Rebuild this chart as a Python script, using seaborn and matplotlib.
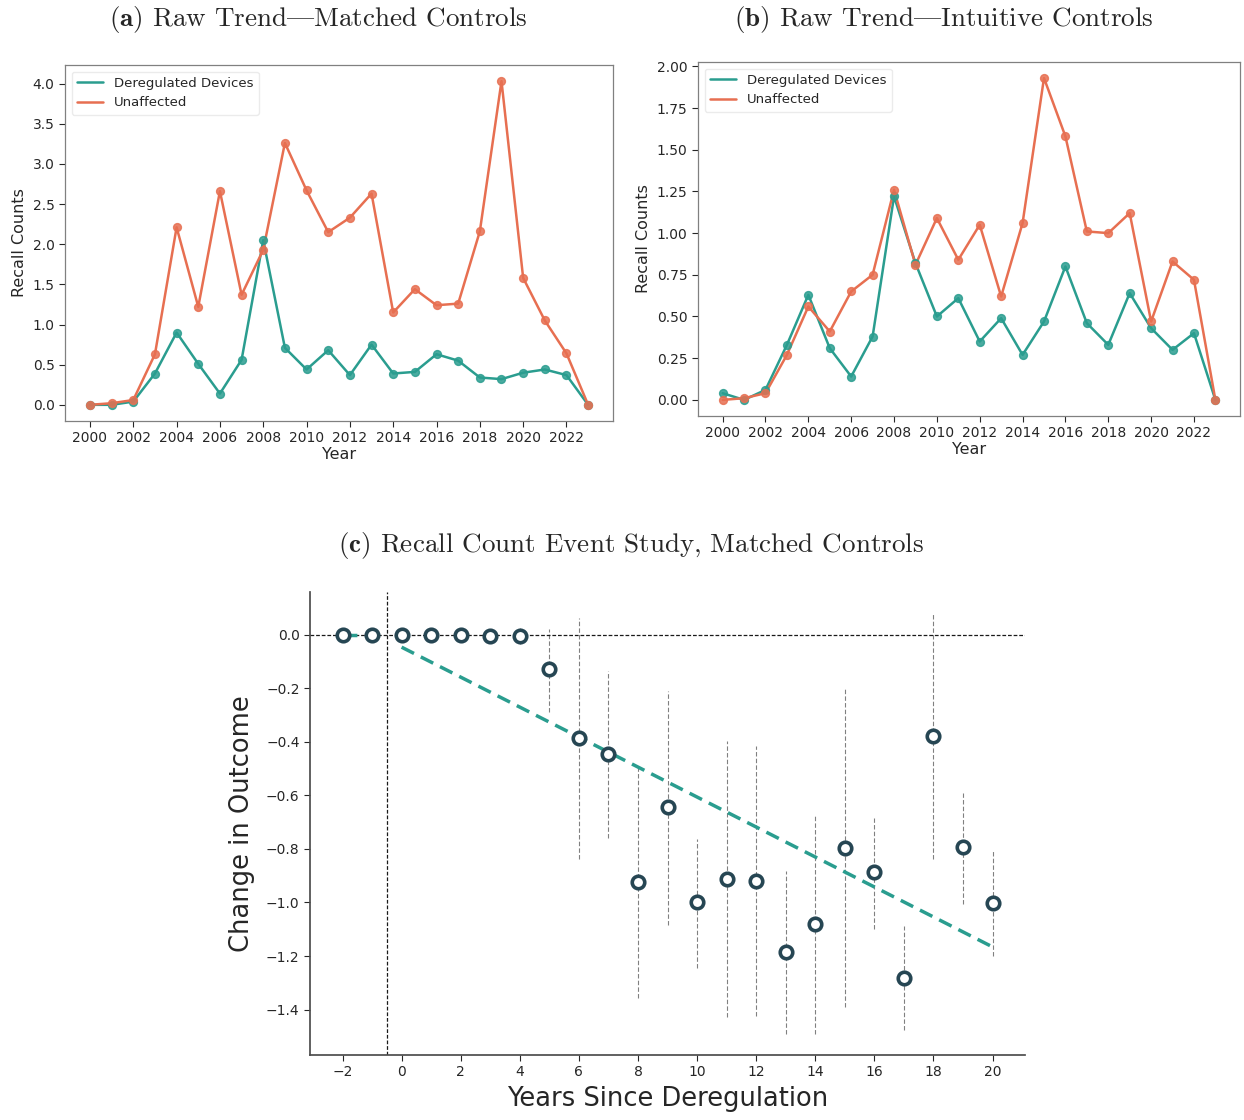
import numpy as np
import pandas as pd
import matplotlib
matplotlib.use("Agg")
import matplotlib.pyplot as plt
import seaborn as sns

# DATA

years = list(range(2000, 2024))

# panel (a) - matched controls
a_dereg = [0.0, 0.0, 0.04, 0.39, 0.90, 0.51, 0.14, 0.56, 2.05, 0.71, 0.44, 0.68,
           0.37, 0.75, 0.39, 0.41, 0.63, 0.55, 0.34, 0.32, 0.40, 0.44, 0.37, 0.0]
a_unaff = [0.0, 0.02, 0.06, 0.63, 2.21, 1.22, 2.66, 1.37, 1.93, 3.26, 2.67, 2.15,
           2.33, 2.63, 1.15, 1.44, 1.24, 1.26, 2.16, 4.03, 1.58, 1.05, 0.64, 0.0]

# panel (b) - intuitive controls
b_dereg = [0.04, 0.0, 0.06, 0.33, 0.63, 0.31, 0.14, 0.38, 1.22, 0.82, 0.50, 0.61,
           0.35, 0.49, 0.27, 0.47, 0.80, 0.46, 0.33, 0.64, 0.43, 0.30, 0.40, 0.0]
b_unaff = [0.0, 0.01, 0.04, 0.27, 0.56, 0.41, 0.65, 0.75, 1.26, 0.81, 1.09, 0.84,
           1.05, 0.62, 1.06, 1.93, 1.58, 1.01, 1.00, 1.12, 0.47, 0.83, 0.72, 0.0]

# panel (c) - event study
rel_years = list(range(-2, 21))
coef = [0.0, 0.0, 0.0, 0.0, 0.0, -0.003, -0.003, -0.127, -0.384, -0.445, -0.924, -0.644,
        -0.998, -0.911, -0.918, -1.186, -1.082, -0.796, -0.887, -1.282, -0.378, -0.794, -1.002]
ci_low = [0.0, 0.0, 0.0, 0.0, 0.0, -0.01, -0.033, -0.288, -0.837, -0.760, -1.357, -1.083,
          -1.243, -1.426, -1.423, -1.493, -1.493, -1.390, -1.098, -1.476, -0.837, -1.005, -1.200]
ci_high = [0.0, 0.0, 0.0, 0.0, 0.0, 0.004, 0.026, 0.023, 0.064, -0.135, -0.499, -0.210,
           -0.761, -0.398, -0.416, -0.884, -0.676, -0.203, -0.683, -1.089, 0.080, -0.590, -0.808]
pre_years = [-2, -1]
post_years = list(range(0, 21))
fit_intercept = -0.046
fit_slope = -0.056

TEAL = "#2a9d8f"
ORANGE = "#e76f51"
DARK = "#264653"

sns.set_theme(style="ticks")
plt.rcParams["font.family"] = ["DejaVu Sans"]
plt.rcParams["mathtext.fontset"] = "cm"

fig = plt.figure(figsize=(12.44, 11.2), dpi=100)

# cmr10 keeps the TeX layout: "|" is the em dash glyph there
title_font = dict(family=["cmr10", "DejaVu Serif"], size=19.5)


def trend_panel(ax, dereg, unaff):
    df = pd.DataFrame({"Year": years * 2,
                       "value": dereg + unaff,
                       "group": ["Deregulated Devices"] * len(years) + ["Unaffected"] * len(years)})
    sns.lineplot(data=df, x="Year", y="value", hue="group",
                 palette=[TEAL, ORANGE], linewidth=1.8, ax=ax)
    ax.scatter(years, dereg, color=TEAL, s=32, alpha=0.85, zorder=3, edgecolor=TEAL, linewidth=1)
    ax.scatter(years, unaff, color=ORANGE, s=32, alpha=0.85, zorder=3, edgecolor=ORANGE, linewidth=1)
    ax.set_xticks(range(2000, 2023, 2))
    ax.tick_params(labelsize=10, colors="0.15", length=4, width=0.8)
    ax.set_xlabel("Year", fontsize=11.5, labelpad=1)
    ax.set_ylabel("Recall Counts", fontsize=11.5)
    for s in ax.spines.values():
        s.set_visible(True)
        s.set_color("0.5")
        s.set_linewidth(0.9)
    leg = ax.legend(loc="upper left", fontsize=9.5, title=None, frameon=True)
    leg.get_frame().set_edgecolor("0.9")


# PANEL A
ax_a = fig.add_axes([0.0523, 0.6241, 0.4405, 0.3179])
trend_panel(ax_a, a_dereg, a_unaff)
fig.text(0.256, 0.983, r"$\mathbf{(a)}$ Raw Trend|Matched Controls", ha="center", va="center",
         fontdict=title_font)

# PANEL B
ax_b = fig.add_axes([0.5611, 0.6286, 0.4357, 0.3161])
trend_panel(ax_b, b_dereg, b_unaff)
ax_b.yaxis.set_major_formatter(matplotlib.ticker.FormatStrFormatter("%.2f"))
fig.text(0.759, 0.983, r"$\mathbf{(b)}$ Raw Trend|Intuitive Controls", ha="center", va="center",
         fontdict=title_font)

# PANEL C
ax_c = fig.add_axes([0.2492, 0.0580, 0.5748, 0.4134])
for x, lo, hi in zip(rel_years, ci_low, ci_high):
    if hi > lo:
        ax_c.plot([x, x], [lo, hi], color="0.5", lw=0.8, ls=(0, (4, 2)), zorder=1)
ax_c.axhline(0, color="0.1", lw=0.9, ls=(0, (3, 1.5)), zorder=1)
ax_c.axvline(-0.5, color="0.1", lw=0.9, ls=(0, (3, 1.5)), zorder=1)
sns.lineplot(x=pre_years, y=[0.0] * len(pre_years), color=TEAL, lw=2.5, ax=ax_c, zorder=2)
ax_c.lines[-1].set_linestyle((0, (4, 2.2)))
post = np.array(post_years)
sns.lineplot(x=post, y=fit_intercept + fit_slope * post, color=TEAL, lw=2.5, ax=ax_c, zorder=2)
ax_c.lines[-1].set_linestyle((0, (4, 2.2)))
ax_c.plot(rel_years, coef, ls="none", marker="o", ms=9, mfc="white", mec=DARK, mew=2.6, zorder=4)
ax_c.set_xlim(-3.1, 21.1)
ax_c.set_ylim(-1.57, 0.16)
ax_c.set_xticks(range(-2, 21, 2))
ax_c.set_yticks(np.arange(-1.4, 0.01, 0.2))
ax_c.tick_params(labelsize=10, colors="0.15", length=4, width=0.8)
ax_c.set_xlabel("Years Since Deregulation", fontsize=18.5, labelpad=5)
ax_c.set_ylabel("Change in Outcome", fontsize=18.5, labelpad=8)
sns.despine(ax=ax_c)
for s in ["left", "bottom"]:
    ax_c.spines[s].set_color("0.3")
fig.text(0.507, 0.513, r"$\mathbf{(c)}$ Recall Count Event Study, Matched Controls", ha="center",
         va="center", fontdict=title_font)

fig.savefig("out.png", dpi=100)
